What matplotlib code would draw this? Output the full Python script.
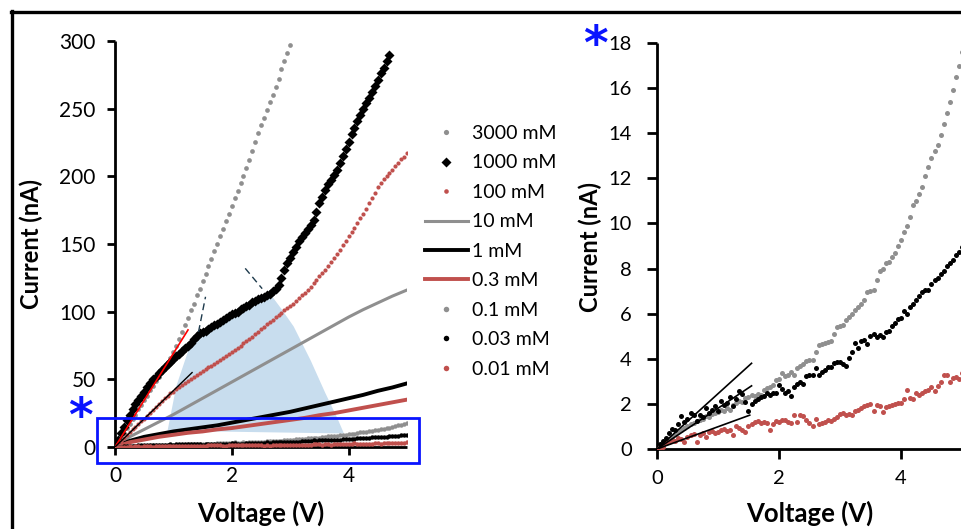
import numpy as np
import matplotlib
matplotlib.use("Agg")
import matplotlib.pyplot as plt
from matplotlib.lines import Line2D
from matplotlib.patches import Rectangle, Polygon

plt.rcParams['font.family'] = ['Lato', 'DejaVu Sans']

# ---------------- data ----------------
V_STEP = 0.05      # voltage sweep step for the dotted (scatter) series
LINE_STEP = 0.25   # sampling of the solid-line series

i_3000mM = [0, 3, 7, 10, 14, 17, 21, 24, 28, 31, 35, 38, 42, 45, 49, 52, 56, 59, 63, 66,
            70, 75, 80, 85, 90, 95, 101, 106, 112, 117, 123, 128, 134, 139, 145, 150, 156,
            161, 167, 172, 178, 184, 189, 195, 200, 206, 212, 219, 225, 232, 238, 243, 249,
            255, 260, 266, 272, 279, 285, 291, 297]

i_1000mM = [0, 5, 10, 15, 20, 24, 28, 32, 35, 38, 41, 44, 47, 50, 52, 55, 57, 59, 61, 63,
            65, 67, 69, 71, 73, 75, 77, 80, 82, 84, 85, 86, 87, 89, 90, 91, 92, 94, 95, 97,
            98, 99, 100, 102, 103, 104, 105, 107, 108, 109, 110, 111, 112, 113, 115, 117,
            120, 125, 131, 136, 140, 144, 148, 152, 155, 158, 161, 164, 168, 174, 180, 185,
            190, 194, 197, 201, 205, 210, 215, 220, 225, 231, 236, 241, 245, 250, 254, 258,
            262, 267, 271, 276, 280, 285, 290]

i_100mM = [0, 2, 4.5, 6.5, 9, 11, 13, 15, 17, 19, 21, 23, 25, 27, 29.5, 32, 34, 36, 38, 40,
           41, 42.5, 44, 45.5, 47, 48.5, 50, 51.5, 53, 54.5, 56, 57.5, 59, 60, 61.5, 63, 64.5,
           66, 67, 68.5, 70, 71.5, 73, 75, 76.5, 78, 80, 81.5, 83.5, 85, 87, 89, 91, 92.5, 94,
           96, 97.5, 99, 101, 102.5, 104, 106, 108, 110, 112, 114, 116, 118.5, 121, 123.5,
           126, 128.5, 131, 133.5, 136.5, 139.5, 142.5, 145.5, 149, 152.5, 156, 159, 162,
           165.5, 169, 172.5, 176, 180, 184, 188, 192, 195, 198, 200, 202.5, 205, 207.5, 210,
           212.5, 214.5, 217]

i_10mM = [0, 7.5, 13, 18.5, 24, 30, 36, 42, 48, 54, 60, 66, 72, 78, 84, 90, 96, 101.5,
          106.5, 111.5, 116]
i_1mM = [0, 4.5, 7.5, 9.5, 11.5, 13, 14.5, 16, 18, 20, 22, 24, 26, 28.5, 31, 33.5, 36, 38.5,
         41.5, 44, 47]
i_03mM = [0, 3.5, 5.5, 7.5, 9, 10.5, 11.5, 13, 14, 15.5, 17, 18.5, 20, 21.5, 23.5, 25, 27,
          29, 31, 33, 35]

i_01mM = [0.0, 0.1, 0.2, 0.35, 0.4, 0.55, 0.65, 0.8, 0.85, 0.95, 1.0, 1.1, 1.15, 1.25, 1.3,
          1.35, 1.45, 1.4, 1.55, 1.6, 1.65, 1.75, 1.7, 1.8, 1.75, 1.95, 2.05, 2.15, 2.1, 2.25,
          2.3, 2.4, 2.35, 2.45, 2.4, 2.6, 2.7, 2.75, 2.85, 3.05, 3.1, 3.35, 3.25, 3.3, 3.4,
          3.3, 3.6, 3.7, 3.75, 3.9, 3.95, 3.95, 4.3, 4.6, 4.65, 4.7, 4.75, 4.8, 5.1, 5.4,
          5.45, 5.5, 5.7, 5.85, 6.0, 6.15, 6.3, 6.45, 6.6, 6.95, 7.0, 7.05, 7.5, 7.9, 8.0,
          8.25, 8.3, 8.5, 8.7, 9.0, 9.25, 9.6, 9.9, 10.3, 10.8, 11.0, 11.3, 11.6, 12.1, 12.5,
          12.9, 13.2, 13.5, 13.9, 14.4, 14.9, 15.4, 15.9, 16.5, 17.0, 17.6]

i_003mM = [0.0, 0.2, 0.35, 0.5, 0.7, 0.9, 0.85, 1.1, 1.45, 1.2, 1.35, 1.6, 1.5, 1.25, 1.5,
           1.4, 1.8, 1.6, 1.75, 1.9, 1.7, 2.15, 1.95, 2.05, 2.3, 1.9, 2.2, 2.55, 2.45, 2.1,
           1.7, 2.0, 2.15, 2.2, 2.3, 2.35, 2.5, 2.4, 2.5, 2.5, 2.85, 2.65, 2.5, 2.55, 2.35,
           2.75, 2.9, 2.95, 2.9, 3.25, 3.3, 3.3, 3.6, 3.3, 3.4, 3.5, 3.65, 3.65, 3.8, 3.85,
           3.85, 3.75, 3.7, 4.05, 4.3, 4.7, 4.5, 4.8, 4.85, 4.65, 5.0, 5.1, 4.95, 5.05, 4.95,
           5.2, 5.25, 5.45, 5.6, 5.75, 5.8, 6.1, 6.0, 6.3, 6.45, 6.6, 6.8, 6.95, 7.05, 7.05,
           7.3, 7.5, 7.6, 7.75, 7.9, 8.1, 8.25, 8.4, 8.6, 8.75, 8.95]

i_001mM = [0.0, 0.05, 0.1, 0.25, 0.3, 0.4, 0.35, 0.5, 0.45, 0.3, 0.55, 0.6, 0.65, 0.3, 0.6,
           0.7, 0.55, 0.75, 0.8, 0.7, 0.75, 0.85, 0.9, 0.8, 0.85, 0.6, 1.0, 0.95, 0.85, 0.75,
           1.0, 1.1, 1.2, 1.25, 1.15, 1.2, 1.15, 0.85, 1.1, 1.25, 1.2, 1.3, 1.3, 1.2, 1.15,
           1.5, 1.2, 1.5, 1.45, 1.3, 1.15, 1.0, 1.35, 1.1, 1.15, 1.2, 1.3, 1.25, 1.35, 1.4,
           1.55, 1.6, 1.5, 1.55, 1.5, 1.7, 1.75, 1.8, 1.9, 1.95, 2.0, 1.7, 1.95, 1.9, 1.65,
           1.85, 1.9, 1.95, 2.0, 2.05, 2.05, 2.2, 2.6, 2.25, 2.2, 2.5, 2.4, 2.5, 2.55, 2.6,
           2.75, 2.55, 2.8, 2.95, 3.3, 3.3, 2.95, 3.15, 3.2, 3.1, 3.35]

# linear fits at low voltage (end points of each fit line)
fit_left_v = [1.25, 1.32]
fit_left_i = [86.5, 55]
tangent_a = ([1.43, 1.55], [85, 111])
tangent_b = ([2.23, 2.52], [132, 117])
fit_right_v = [1.55, 1.55, 1.52]
fit_right_i = [3.8, 2.8, 1.5]

# shaded region outline (voltage, current)
shade_v = [0.90, 1.05, 1.30, 1.40, 1.60, 1.80, 2.00, 2.20, 2.40, 2.60, 2.66, 2.85, 3.06,
           3.35, 3.60, 3.80, 3.92]
shade_i = [12, 45, 77, 82, 87, 92, 98, 103, 108, 112, 113, 102, 89, 64, 40, 22, 10]

labels = ['3000 mM', '1000 mM', '100 mM', '10 mM', '1 mM', '0.3 mM',
          '0.1 mM', '0.03 mM', '0.01 mM']

GRAY = '#8f8f8f'
RED = '#c0504d'
BLACK = '#000000'


def volts(values, step):
    return np.arange(len(values)) * step


# ---------------- figure ----------------
W, H = 962, 529
fig = plt.figure(figsize=(W / 100, H / 100), dpi=100)


def fx(px):
    return px / W


def fy(py):
    return 1 - py / H


ax1 = fig.add_axes([fx(115), fy(447), fx(407) - fx(115), fy(41) - fy(447)])
ax2 = fig.add_axes([fx(657), fy(449), fx(962) - fx(657), fy(43) - fy(449)])

# shaded region behind the curves
ax1.add_patch(Polygon(np.column_stack([shade_v, shade_i]), closed=True,
                      facecolor='#c8ddee', edgecolor='none', zorder=0))

# solid-line series
h10, = ax1.plot(volts(i_10mM, LINE_STEP), i_10mM, color=GRAY, lw=2.2, zorder=2)
h1, = ax1.plot(volts(i_1mM, LINE_STEP), i_1mM, color=BLACK, lw=2.8, zorder=2)
h03, = ax1.plot(volts(i_03mM, LINE_STEP), i_03mM, color=RED, lw=2.8, zorder=2)

# dotted (scatter) series
h3000, = ax1.plot(volts(i_3000mM, V_STEP), i_3000mM, ls='none', marker='o', ms=3.4,
                  color=GRAY, mec='none', zorder=3)
h1000, = ax1.plot(volts(i_1000mM, V_STEP), i_1000mM, ls='none', marker='D', ms=4.8,
                  color=BLACK, mec='none', zorder=3)
h100, = ax1.plot(volts(i_100mM, V_STEP), i_100mM, ls='none', marker='o', ms=3.0,
                 color=RED, mec='none', zorder=3)

low_series = [(i_01mM, GRAY), (i_003mM, BLACK), (i_001mM, RED)]
low_handles = []
for vals, col in low_series:
    ax1.plot(volts(vals, V_STEP), vals, ls='none', marker='o', ms=3.2, color=col,
             mec='none', zorder=3)
    h, = ax2.plot(volts(vals, V_STEP), vals, ls='none', marker='o', ms=3.6, color=col,
                  mec='none', zorder=3)
    low_handles.append(h)

# fit lines and tangents
ax1.plot([0, fit_left_v[0]], [0, fit_left_i[0]], color='#ff0000', lw=1.2, zorder=4)
ax1.plot([0, fit_left_v[1]], [0, fit_left_i[1]], color=BLACK, lw=1.0, zorder=4)
for tv, ti in (tangent_a, tangent_b):
    ax1.plot(tv, ti, color='#1e3a4c', lw=1.0, ls=(0, (5, 3)), zorder=4)
for fv, fi in zip(fit_right_v, fit_right_i):
    ax2.plot([0, fv], [0, fi], color=BLACK, lw=1.2, zorder=4)

# zoom window marker on the left panel
ax1.add_patch(Rectangle((-0.31, -11.8), 5.52, 33.2, fill=False, edgecolor='#0a14ff',
                        lw=2.0, clip_on=False, zorder=5))

# axes styling
for ax, ylim, yticks in ((ax1, (0, 300), range(0, 301, 50)),
                         (ax2, (0, 18), range(0, 19, 2))):
    ax.set_xlim(0, 5)
    ax.set_ylim(*ylim)
    ax.set_xticks([0, 2, 4])
    ax.set_yticks(list(yticks))
    for s in ('top', 'right'):
        ax.spines[s].set_visible(False)
    for s in ('left', 'bottom'):
        ax.spines[s].set_linewidth(2.0)
        ax.spines[s].set_capstyle('butt')
    ax.tick_params(direction='out', length=6, width=2.0, labelsize=15, pad=8,
                   colors='black')
    ax.patch.set_visible(False)

ax2.tick_params(axis='y', length=7, pad=11, labelsize=14.5)
ax2.tick_params(axis='x', length=7, pad=8, labelsize=14.5)
ax1.spines['bottom'].set_position(('data', 0))

fig.text(fx(31), fy(244), 'Current (nA)', rotation=90, ha='center', va='center',
         fontsize=17, fontweight='bold')
fig.text(fx(590), fy(247), 'Current (nA)', rotation=90, ha='center', va='center',
         fontsize=17, fontweight='bold')
fig.text(fx(261), fy(513), 'Voltage (V)', ha='center', va='center',
         fontsize=18.5, fontweight='bold')
fig.text(fx(810), fy(513), 'Voltage (V)', ha='center', va='center',
         fontsize=18.5, fontweight='bold')

# asterisks
fig.text(fx(80), fy(419), '*', color='#0a14ff', fontsize=34, fontweight='bold',
         ha='center', va='center', family='DejaVu Sans')
fig.text(fx(595), fy(47), '*', color='#0a14ff', fontsize=34, fontweight='bold',
         ha='center', va='center', family='DejaVu Sans')

# legend
handles = [h3000, h1000, h100, h10, h1, h03] + low_handles
leg_handles = []
for h in handles:
    if h.get_linestyle() in ('None', 'none', ''):
        ms = h.get_markersize() * 1.1
        leg_handles.append(Line2D([], [], ls='none', marker=h.get_marker(), ms=ms,
                                  color=h.get_color(), mec='none'))
    else:
        leg_handles.append(Line2D([], [], color=h.get_color(), lw=h.get_linewidth()))
fig.legend(leg_handles, labels, loc='upper left',
           bbox_to_anchor=(fx(425), fy(125)), frameon=False, fontsize=14,
           handlelength=2.2, handletextpad=0.2, labelspacing=0.64,
           borderaxespad=0, borderpad=0)

# outer frame of the figure
fig.add_artist(Line2D([fx(11), 1.0], [fy(11.5), fy(11.5)], color='black', lw=2.4,
                      transform=fig.transFigure))
fig.add_artist(Line2D([fx(11.5), fx(11.5)], [0, fy(11)], color='black', lw=2.4,
                      transform=fig.transFigure))

fig.savefig('out.png', dpi=100)
